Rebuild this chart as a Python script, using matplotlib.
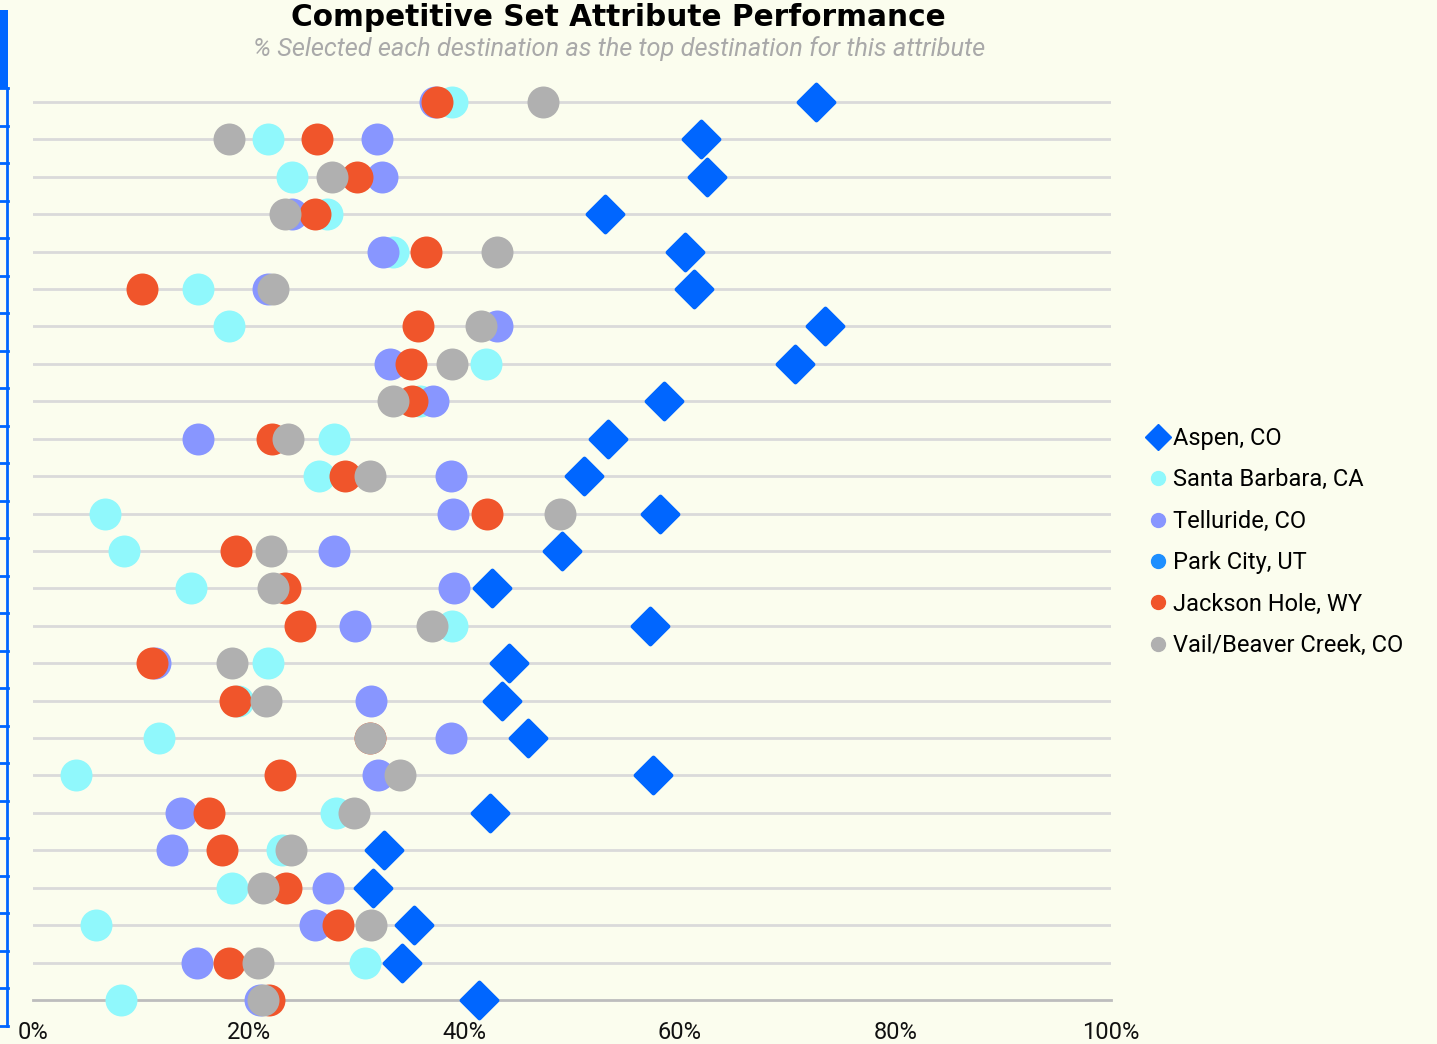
import matplotlib.pyplot as plt
from matplotlib.lines import Line2D
from matplotlib.patches import Rectangle

# % of respondents picking each destination as the best for an attribute (one row per attribute)
aspen = [72.6, 62.0, 62.5, 53.1, 60.5, 61.3, 73.5, 70.7, 58.5, 53.3, 51.1, 58.2, 49.1,
         42.6, 57.2, 44.2, 43.5, 45.9, 57.5, 42.4, 32.6, 31.5, 35.3, 34.2, 41.4]
santa_barbara = [38.9, 21.8, 24.0, 27.3, 33.4, 15.3, 18.2, 42.0, 35.9, 27.9, 26.5, 6.7, 8.4,
                 14.7, 38.9, 21.8, 19.0, 11.7, 4.0, 28.1, 23.1, 18.5, 5.8, 30.8, 8.2]
telluride = [37.3, 31.9, 32.4, 24.0, 32.5, 21.8, 43.0, 33.1, 37.1, 15.3, 38.8, 39.0, 27.9,
             39.1, 29.9, 11.3, 31.4, 38.8, 32.0, 13.7, 12.9, 27.4, 26.2, 15.2, 21.1]
jackson_hole = [37.5, 26.3, 30.1, 26.2, 36.5, 10.1, 35.7, 35.1, 35.2, 22.2, 28.9, 42.1, 18.8,
                23.4, 24.8, 11.0, 18.7, 31.3, 22.9, 16.3, 17.5, 23.5, 28.3, 18.2, 21.9]
vail = [47.3, 18.2, 27.7, 23.4, 43.0, 22.3, 41.6, 38.9, 33.4, 23.7, 31.3, 48.9, 22.1,
        22.3, 37.0, 18.5, 21.6, 31.3, 34.0, 29.8, 23.9, 21.3, 31.4, 20.9, 21.3]
park_city = []

x_ticks = [0, 20, 40, 60, 80, 100]
x_labels = ['0%', '20%', '40%', '60%', '80%', '100%']

BG = '#fbfdee'
W, H = 1437, 1044

plt.rcParams['font.family'] = ['Roboto', 'DejaVu Sans']

fig = plt.figure(figsize=(W / 100, H / 100), dpi=100, facecolor=BG)

row_gap = 37.42
top_px, bottom_px = 85, 1000
left_px, right_px = 33, 1111
ax = fig.add_axes([left_px / W, 1 - bottom_px / H, (right_px - left_px) / W, (bottom_px - top_px) / H])
ax.set_facecolor(BG)

rows = list(range(len(aspen)))
for r in rows[:-1]:
    ax.axhline(r, color='#dadada', lw=2, zorder=1)
ax.axhline(rows[-1], color='#bdbdbd', lw=2, zorder=1, clip_on=False)

dot = 530
ax.scatter(santa_barbara, rows, s=dot, color='#90f8fc', zorder=3, clip_on=False, lw=0)
ax.scatter(telluride, rows, s=dot, color='#8896ff', zorder=4, clip_on=False, lw=0)
ax.scatter(park_city, [], s=dot, color='#1e8fff', zorder=4.5, clip_on=False, lw=0)
ax.scatter(jackson_hole, rows, s=dot, color='#f0552b', zorder=5, clip_on=False, lw=0)
ax.scatter(vail, rows, s=dot, color='#b0b0b0', zorder=6, clip_on=False, lw=0)
diamonds = ax.scatter(aspen, rows, s=330, marker='D', color='#0066ff', edgecolor='#0066ff',
                      lw=3, zorder=7, clip_on=False)
diamonds.set_joinstyle('round')

ax.set_xlim(0, 100)
ax.set_ylim(rows[-1], -(bottom_px - top_px) / row_gap + rows[-1])
ax.set_xticks(x_ticks)
ax.set_xticklabels(x_labels, fontsize=17, color='#111111')
ax.tick_params(axis='x', length=0, pad=15)
ax.set_yticks([])
for s in ax.spines.values():
    s.set_visible(False)

# legend on the right
handles = [
    Line2D([], [], marker='D', ls='', color='#0066ff', markersize=13),
    Line2D([], [], marker='o', ls='', color='#90f8fc', markersize=10),
    Line2D([], [], marker='o', ls='', color='#8896ff', markersize=10),
    Line2D([], [], marker='o', ls='', color='#1e8fff', markersize=10),
    Line2D([], [], marker='o', ls='', color='#f0552b', markersize=10),
    Line2D([], [], marker='o', ls='', color='#b0b0b0', markersize=10),
]
labels = ['Aspen, CO', 'Santa Barbara, CA', 'Telluride, CO', 'Park City, UT',
          'Jackson Hole, WY', 'Vail/Beaver Creek, CO']
fig.legend(handles, labels, loc='center left', bbox_to_anchor=(1138 / W, 1 - 542 / H),
           frameon=False, fontsize=17, handlelength=0.7, handletextpad=0.3,
           labelspacing=0.78, borderpad=0)

fig.text(618 / W, 1 - 17 / H, 'Competitive Set Attribute Performance', ha='center', va='center',
         fontsize=21.3, fontweight='heavy', family=['DejaVu Sans'], color='#000000')
fig.text(619 / W, 1 - 49 / H, '% Selected each destination as the top destination for this attribute',
         ha='center', va='center', fontsize=18.3, style='italic', color='#a9a9a9')

# clipped table edge on the far left
blue = '#0066ff'
fig.add_artist(Rectangle((0, 1 - 88 / H), 8 / W, 78 / H, transform=fig.transFigure,
                         color=blue, lw=0))
fig.add_artist(Line2D([7 / W, 7 / W], [1 - 88 / H, 1 - 1026 / H], transform=fig.transFigure,
                      color=blue, lw=2))
for k in range(26):
    y = 1 - (88 + k * 37.52) / H
    fig.add_artist(Line2D([0, 8 / W], [y, y], transform=fig.transFigure, color=blue, lw=2))

fig.savefig('out.png', dpi=100, facecolor=BG)
